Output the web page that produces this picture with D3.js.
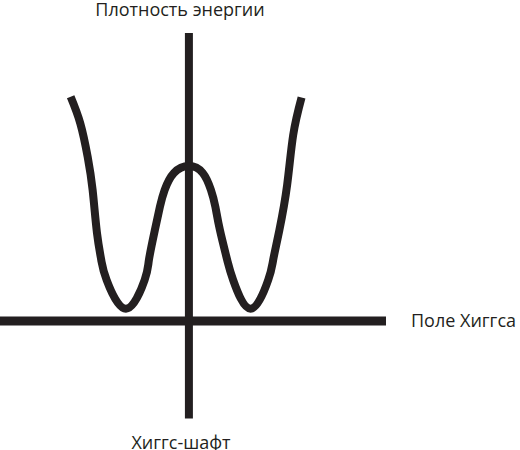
<!DOCTYPE html>
<html>
<head>
<meta charset="utf-8">
<script src="https://cdn.jsdelivr.net/npm/d3@7"></script>
<style>
  body { margin: 0; background: #fff; }
  text { font-family: "Open Sans", "Noto Sans", sans-serif; fill: #231f20; }
</style>
</head>
<body>
<svg width="520" height="450"></svg>
<script>
// Higgs potential: field value vs energy density (minima near field = ±1)
const field = [-1.878, -1.725, -1.608, -1.529, -1.46, -1.392, -1.306, -1.0, -0.703, -0.635, -0.54, -0.46, -0.386, -0.238, 0,
               0.22, 0.35, 0.42, 0.492, 0.608, 0.703, 0.979, 1.259, 1.338, 1.437, 1.56, 1.656, 1.789];
const energy = [1.495, 1.318, 1.095, 0.873, 0.587, 0.407, 0.273, 0.082, 0.273, 0.407, 0.607, 0.762, 0.873, 0.987, 1.033,
                0.987, 0.873, 0.762, 0.607, 0.407, 0.273, 0.082, 0.273, 0.407, 0.607, 0.907, 1.24, 1.49];

const labelY = "Плотность энергии";
const labelX = "Поле Хиггса";
const labelBottom = "Хиггс-шафт";

const svg = d3.select("svg");
const ink = "#231f20";

const x = d3.scaleLinear().domain([-3, 3.13]).range([0, 386]);
const y = d3.scaleLinear().domain([0, 1]).range([321, 171]);

const data = field.map((f, i) => ({f: f, e: energy[i]}));

// axes
svg.append("line")
    .attr("x1", x(-3)).attr("x2", x(3.13))
    .attr("y1", y(0)).attr("y2", y(0))
    .attr("stroke", ink).attr("stroke-width", 9);

svg.append("line")
    .attr("x1", x(0)).attr("x2", x(0))
    .attr("y1", y(1.92)).attr("y2", y(-0.65))
    .attr("stroke", ink).attr("stroke-width", 8);

// potential curve
const line = d3.line()
    .x(d => x(d.f))
    .y(d => y(d.e))
    .curve(d3.curveNatural);

svg.append("path")
    .datum(data)
    .attr("d", line)
    .attr("fill", "none")
    .attr("stroke", ink)
    .attr("stroke-width", 8);

// labels
svg.append("text")
    .attr("x", 180).attr("y", 16)
    .attr("text-anchor", "middle")
    .attr("font-size", 18)
    .text(labelY);

svg.append("text")
    .attr("x", 411).attr("y", 327)
    .attr("font-size", 18)
    .text(labelX);

svg.append("text")
    .attr("x", 181).attr("y", 449)
    .attr("text-anchor", "middle")
    .attr("font-size", 18)
    .text(labelBottom);
</script>
</body>
</html>
